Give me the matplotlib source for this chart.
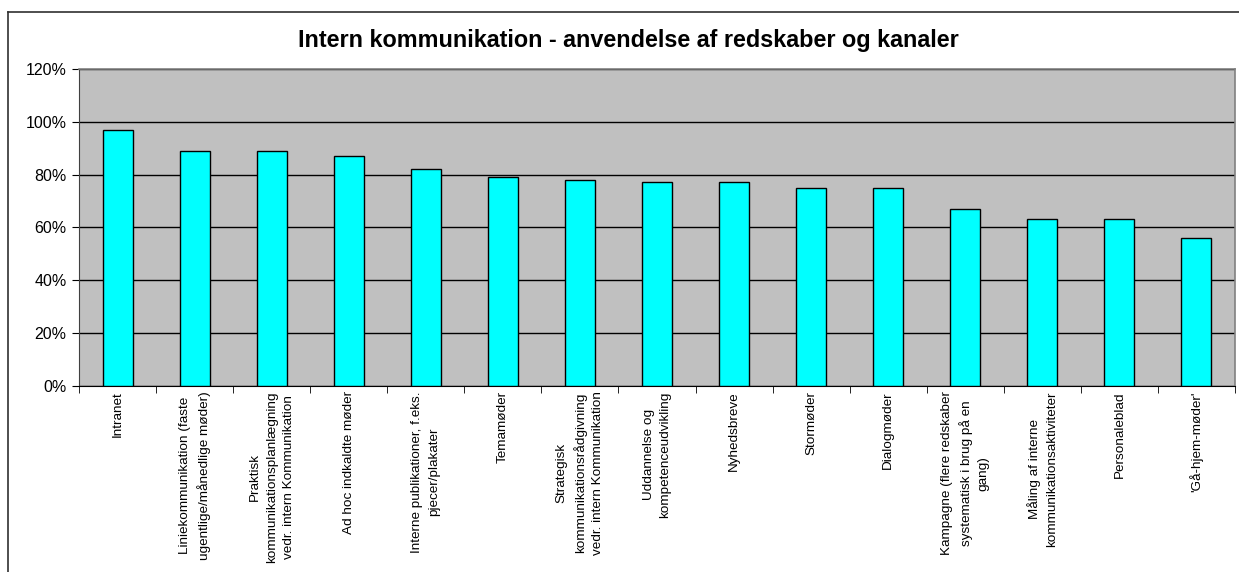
import matplotlib.pyplot as plt
from matplotlib.lines import Line2D
from matplotlib.ticker import FuncFormatter

# === DATA ===
categories = [
    "Intranet",
    "Liniekommunikation (faste\nugentlige/månedlige møder)",
    "Praktisk\nkommunikationsplanlægning\nvedr. intern Kommunikation",
    "Ad hoc indkaldte møder",
    "Interne publikationer, f.eks.\npjecer/plakater",
    "Temamøder",
    "Strategisk\nkommunikationsrådgivning\nvedr. intern Kommunikation",
    "Uddannelse og\nkompetenceudvikling",
    "Nyhedsbreve",
    "Stormøder",
    "Dialogmøder",
    "Kampagne (flere redskaber\nsystematisk i brug på en\ngang)",
    "Måling af interne\nkommunikationsaktiviteter",
    "Personaleblad",
    "'Gå-hjem-møder'",
]
values = [0.97, 0.89, 0.89, 0.87, 0.82, 0.79, 0.78, 0.77, 0.77, 0.75, 0.75, 0.67, 0.63, 0.63, 0.56]
y_ticks = [0, 0.2, 0.4, 0.6, 0.8, 1.0, 1.2]
title = "Intern kommunikation - anvendelse af redskaber og kanaler"

plt.rcParams['font.family'] = ['Liberation Sans', 'DejaVu Sans']

W, H = 1239, 572
fig = plt.figure(figsize=(W / 100, H / 100), dpi=100)
ax = fig.add_axes([79 / W, 1 - 385.7 / H, (1235 - 79) / W, (385.7 - 69) / H])

# plot area
ax.set_facecolor('#C0C0C0')
x = list(range(len(categories)))
ax.bar(x, values, width=0.39, color='#00FFFF', edgecolor='black', linewidth=1.0, zorder=3)

ax.set_xlim(-0.5, len(categories) - 0.5)
ax.set_ylim(0, 1.2)
ax.set_yticks(y_ticks)
ax.yaxis.set_major_formatter(FuncFormatter(lambda v, p: f"{v * 100:.0f}%"))
ax.yaxis.grid(True, color='black', linewidth=1.0, zorder=1)
ax.set_axisbelow(True)

# category labels centred under bars, ticks on boundaries
ax.set_xticks(x)
ax.set_xticklabels(categories, rotation=90, fontsize=9.7, linespacing=1.55,
                   multialignment='center', va='top', ha='center')
ax.tick_params(axis='x', length=0, pad=4)
ax.set_xticks([i + 0.5 for i in range(-1, len(categories))], minor=True)
ax.tick_params(axis='x', which='minor', length=5, direction='out', color='black')
ax.tick_params(axis='y', length=5, direction='out', labelsize=11.5, pad=4)

for side in ['top', 'right']:
    ax.spines[side].set_color('#808080')
    ax.spines[side].set_linewidth(1.2)
ax.spines['left'].set_color('#404040')
ax.spines['bottom'].set_color('black')

fig.text(628 / W, 1 - 41 / H, title, ha='center', va='center',
         fontsize=16.8, fontweight='bold')

# chart area frame (continues beyond the crop)
fig.add_artist(Line2D([8 / W, 1.0], [1 - 12 / H, 1 - 12 / H], color='#303030', lw=1.2,
                      transform=fig.transFigure))
fig.add_artist(Line2D([8 / W, 8 / W], [0.0, 1 - 12 / H], color='#303030', lw=1.2,
                      transform=fig.transFigure))

plt.savefig("out.png", dpi=100)
plt.close()
